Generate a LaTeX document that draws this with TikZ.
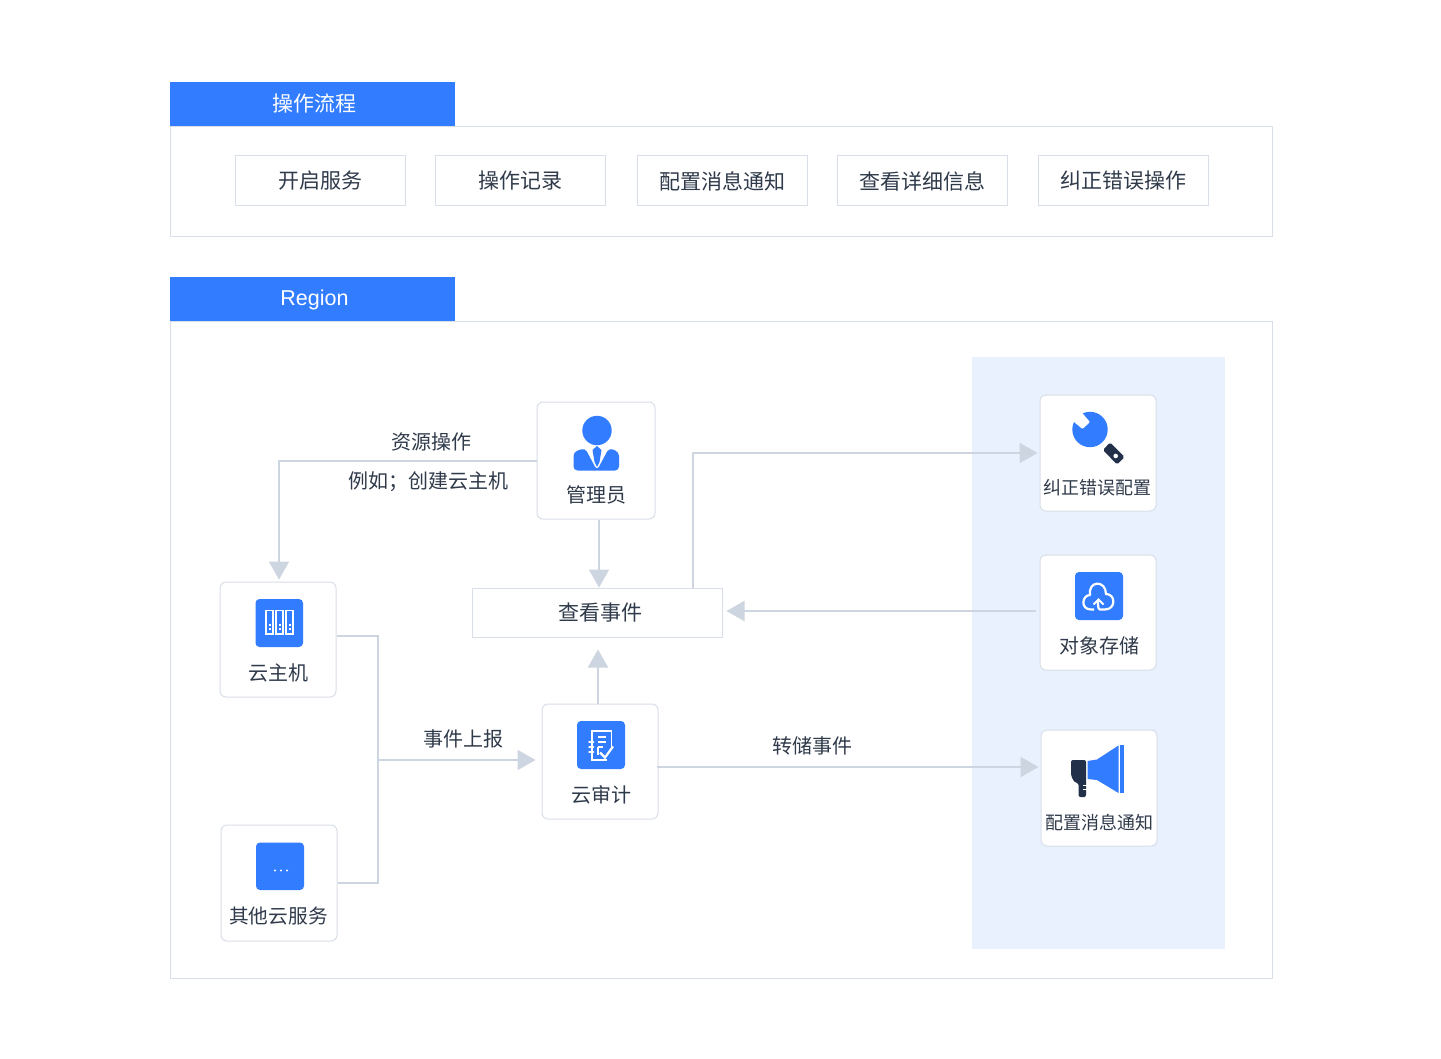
\documentclass[tikz,border=0pt]{standalone}
\usepackage{fontspec}
\setmainfont{Noto Sans CJK SC}
\newfontfamily\latinfont{Liberation Sans}
\usetikzlibrary{arrows.meta,calc}
\definecolor{brand}{HTML}{327DFF}
\definecolor{edge}{HTML}{D9DFE8}
\definecolor{wire}{HTML}{CDD5E0}
\definecolor{ink}{HTML}{2F3A4A}
\definecolor{navy}{HTML}{22304A}
\definecolor{zone}{HTML}{E9F0FE}
\newcommand{\fs}[1]{\fontsize{#1}{#1}\selectfont}
\tikzset{
  x=1pt,y=-1pt,
  txt/.style={text=ink,inner sep=0pt,font=\fs{20}},
  small/.style={text=ink,inner sep=0pt,font=\fs{18}},
  head/.style={fill=brand,text=white,inner sep=0pt,minimum width=285pt,minimum height=44pt,font=\fs{21}},
  panel/.style={draw=edge,line width=1pt,fill=white},
  plain/.style={draw=edge,line width=1pt,fill=white,inner sep=0pt,minimum width=170pt,minimum height=50pt,text=ink,font=\fs{21}},
  card/.style={draw=edge,line width=1pt,fill=white,rounded corners=6pt,inner sep=0pt,minimum width=116pt,minimum height=116pt},
  tile/.style={fill=brand,rounded corners=4pt},
  conn/.style={draw=wire,line width=2pt},
  flow/.style={conn,-{Triangle[width=20pt,length=18pt,color=wire]},shorten >=0pt},
  glyph/.style={draw=white,line width=1.5pt},
}
\begin{document}
\begin{tikzpicture}
\useasboundingbox (0,0) rectangle (1441,1059);
\fill[white] (0,0) rectangle (1441,1059);
% top panel
\draw[panel] (170.5,126.5) rectangle (1272.5,236.5);
\node[head] (h1) at (312.5,104) {\hspace{4pt}操作流程};
\node[plain] (s1) at (320,181) {开启服务};
\node[plain] (s2) at (520,181) {操作记录};
\node[plain] (s3) at (722,181) {配置消息通知};
\node[plain] (s4) at (922,181) {查看详细信息};
\node[plain] (s5) at (1123,181) {纠正错误操作};
% region panel
\draw[panel] (170.5,321.5) rectangle (1272.5,978.5);
\node[head,font=\latinfont\fs{21.5},text height=18pt,text depth=4pt] (h2) at (312.5,299) {\hspace{4pt}Region};
\fill[zone] (972,357) rectangle (1224.5,948.5);
% cards
\node[card,minimum width=118pt,minimum height=117pt] (admin) at (596,460.5) {};
\node[card,minimum height=115pt] (vm) at (278,639.5) {};
\node[card] (other) at (279,883) {};
\node[card,minimum height=115pt] (audit) at (600,761.5) {};
\node[card] (fix) at (1098,453) {};
\node[card,minimum height=115pt] (cos) at (1098,612.5) {};
\node[card] (notify) at (1099,788) {};
\node[draw=edge,line width=1pt,fill=white,inner sep=0pt,minimum width=250pt,minimum height=49pt,text=ink,font=\fs{21}] (events) at (597,612.5) {\hspace{7pt}查看事件};
% card captions
\node[txt] (t1) at (596,494.5) {管理员};
\node[txt] (t2) at (278,672.5) {云主机};
\node[txt,font=\fs{19.7}] (t3) at (278.5,916.5) {其他云服务};
\node[txt] (t4) at (601,794.5) {云审计};
\node[small] (t5) at (1097,487.5) {纠正错误配置};
\node[txt] (t6) at (1099.5,645.5) {对象存储};
\node[small] (t7) at (1099,822.5) {配置消息通知};
% connector labels
\node[txt] (l1) at (431,442) {资源操作};
\node[txt] (l2) at (428,482) {例如；创建云主机};
\node[txt] (l3) at (463,739) {事件上报};
\node[txt] (l4) at (812,746) {转储事件};
% connectors
\coordinate (bus) at (378,760);
\draw[flow,shorten >=2pt] (admin.west) -| ([xshift=1pt]vm.north);
\draw[flow] ([xshift=3pt]admin.south) -- ([xshift=2pt]events.north);
\draw[flow,shorten >=2pt] ([xshift=96pt]events.north) |- (fix.west);
\draw[flow,shorten <=4pt,shorten >=4pt] ([yshift=1.5pt]cos.west) -- ([yshift=1.5pt]events.east);
\draw[flow,shorten >=12pt] ([xshift=-2pt]audit.north) -- ([xshift=1pt]events.south);
\draw[flow,shorten <=-2pt,shorten >=2pt] ([yshift=-5.5pt]audit.east) -- ([yshift=21pt]notify.west);
\draw[conn] ([yshift=3.5pt]vm.east) -| (bus) |- (other.east);
\draw[flow,shorten <=1pt,shorten >=6pt] (bus) -- ([yshift=1.5pt]audit.west);
% admin icon
\fill[brand] (597,430.5) circle (14.7);
\fill[brand,rounded corners=4pt] (573.5,470.5) -- (573.5,452) -- (585,448) -- (597,470.5) -- (609,448) -- (619,452) -- (619,470.5) -- cycle;
\fill[brand] (592.5,450) -- (597,446) -- (601.5,450) -- (599.5,462) -- (597,467) -- (594.5,462) -- cycle;
% server icon
\fill[tile] (255.5,599) rectangle (303,647);
\foreach \cx in {266,276,286}{
  \draw[glyph] (\cx,610.5) rectangle (\cx+7,634);
  \fill[white] (\cx+2.5,624) rectangle (\cx+4.5,626);
  \fill[white] (\cx+2.5,628) rectangle (\cx+4.5,630);
}
% other icon
\fill[tile] (256,842.5) rectangle (304,890);
\foreach \cx in {275,281,287}{\fill[white] (\cx,870.5) circle (1.1);}
% audit icon
\fill[tile] (577,721) rectangle (625,769);
\draw[glyph,line width=1.8pt] (607,760) -- (592,760) -- (592,731) -- (611.5,731) -- (611.5,749);
\draw[glyph] (598,737) -- (606,737);
\draw[glyph] (598,742) -- (606,742);
\draw[glyph] (598,747) -- (603,747);
\draw[glyph] (598,747) -- (598,755);
\foreach \ry in {742,747,752}{\draw[glyph,line cap=round] (589,\ry) -- (593.5,\ry);}
\draw[glyph,line width=2.2pt] (600,752.5) -- (605,757.5) -- (613,746.5);
% fix icon
\fill[brand] (1090,429.5) circle (17.7);
\fill[white,rounded corners=1pt] (1083,414) -- (1090,422) -- (1082.5,429) -- (1074,422) -- (1070,410) -- (1080,408) -- cycle;
\fill[navy,rounded corners=1.5pt] (1110,442.5) -- (1124.5,457) -- (1117,464.5) -- (1103,450) -- cycle;
\fill[white] (1115.7,456) circle (2.3);
% cos icon
\fill[tile] (1075,572) rectangle (1123,620);
\draw[glyph,line width=2.2pt,line join=round] (1094,609.5) -- (1091,609.5) .. controls (1080,609.5) and (1082,595) .. (1090,595) .. controls (1088,580) and (1106,580) .. (1106,594) .. controls (1116,594) and (1116,609.5) .. (1105,609.5) -- (1100,609.5) .. controls (1098,609.5) and (1098,605) .. (1098,601);
\draw[glyph,line width=2pt] (1093.5,604.5) -- (1098.5,599.5) -- (1103.5,604.5);
% notify icon
\fill[navy,rounded corners=2pt] (1071,760) -- (1086,760) -- (1086,797) -- (1078.5,797) -- (1078.5,783) -- (1075,783) -- (1071,776) -- cycle;
\fill[white] (1083,784.5) rectangle (1087,785.7);
\fill[white] (1083,789) rectangle (1087,790.2);
\fill[brand] (1087.5,761) -- (1097,759.5) -- (1118.5,745.5) -- (1118.5,793) -- (1097,780) -- (1087.5,779) -- cycle;
\fill[brand] (1120,745) rectangle (1124,793);
\end{tikzpicture}
\end{document}
